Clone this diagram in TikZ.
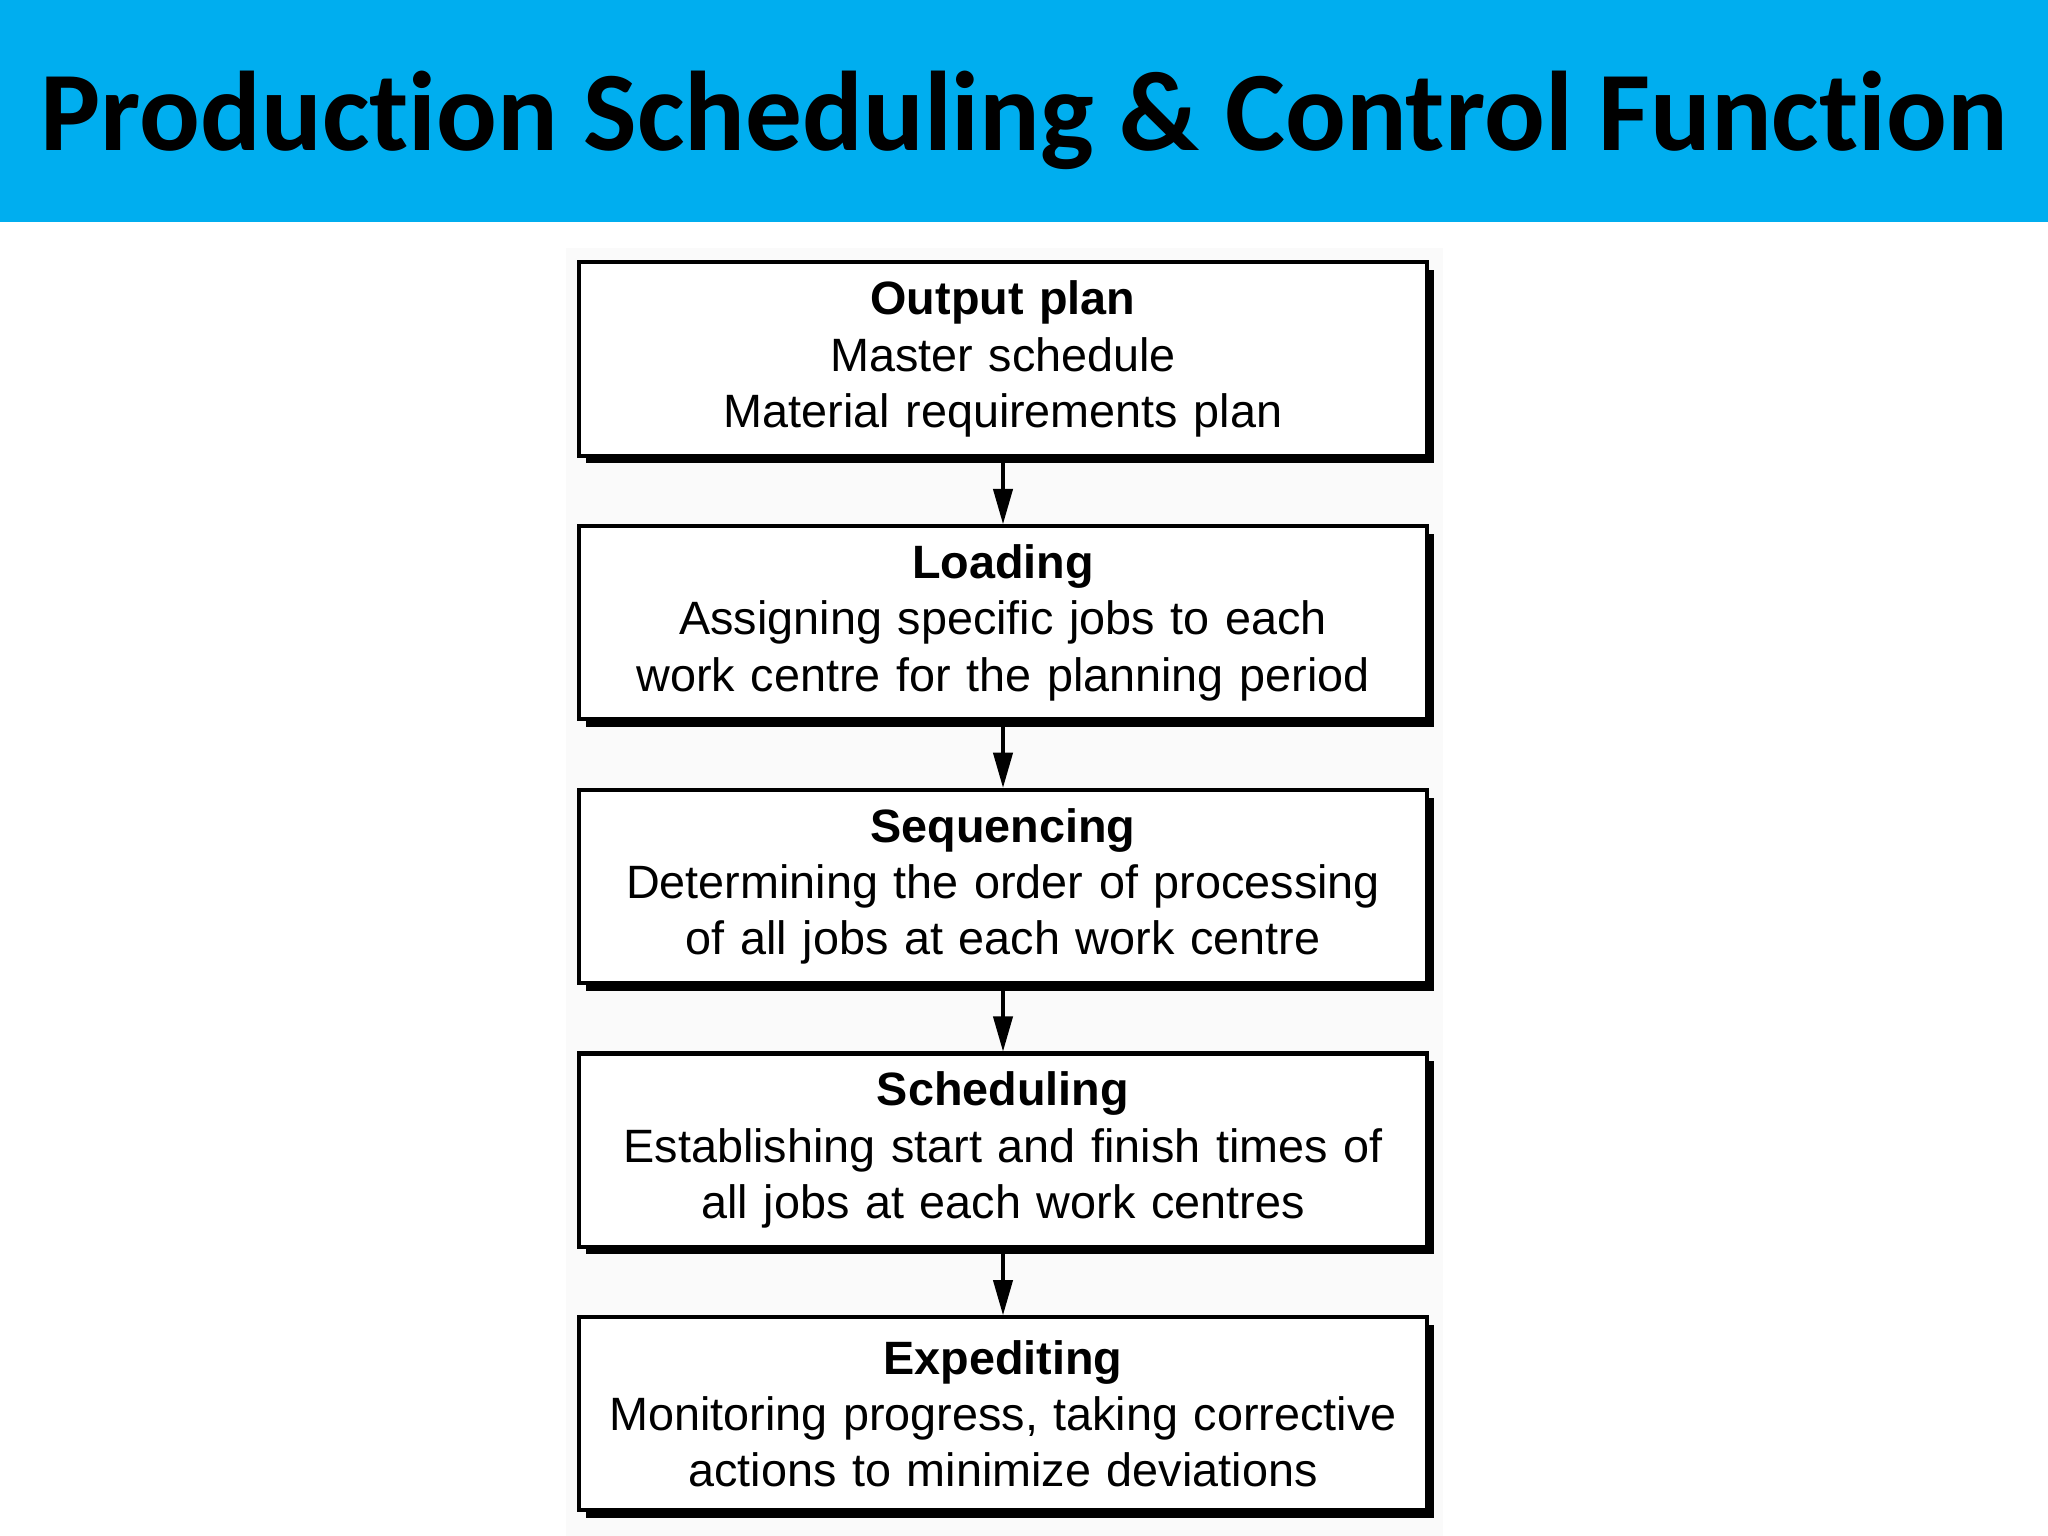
\documentclass[tikz,border=0pt]{standalone}
\usepackage{fontspec}
\usepackage{tikz}
\usetikzlibrary{positioning, shadows, arrows.meta}
\setmainfont{Liberation Sans}
\newfontfamily\titlefont[Ligatures=NoCommon]{Carlito}
\definecolor{bannerblue}{HTML}{00AEEF}
\tikzset{
  stagebox/.style={draw, line width=1.15pt, fill=white, minimum width=8.47cm, minimum height=1.93cm,
    align=center, text width=8.1cm, font=\fontsize{13.3}{16}\selectfont,
    drop shadow={shadow xshift=2pt, shadow yshift=-2.2pt, fill=black, opacity=1}},
  flow/.style={line width=0.9pt, -{Triangle[length=10pt,width=5.5pt]}}
}
\begin{document}
\begin{tikzpicture}[x=0.01cm, y=0.01cm]

% Page and banner
\useasboundingbox (0,0) rectangle (2048,1536);
\fill[bannerblue] (0,1314) rectangle (2048,1536);
\fill[black!2] (566,0) rectangle (1443,1288);
\node[anchor=base, inner sep=0pt] (title) at (1024,1385) {\titlefont\fontsize{32.2}{36}\selectfont\bfseries Production Scheduling \& Control Function};

% Stages
\node[stagebox] (output) at (1003,1177) {\textbf{Output plan}\\Master schedule\\Material requirements plan};
\node[stagebox, below=0.665cm of output] (loading) {\textbf{Loading}\\Assigning specific jobs to each\\work centre for the planning period};
\node[stagebox, below=0.665cm of loading] (sequencing) {\textbf{Sequencing}\\Determining the order of processing\\of all jobs at each work centre};
\node[stagebox, below=0.665cm of sequencing] (scheduling) {\textbf{Scheduling}\\Establishing start and finish times of\\all jobs at each work centres};
\node[stagebox, below=0.665cm of scheduling] (expediting) {\textbf{Expediting}\\Monitoring progress, taking corrective\\actions to minimize deviations};

% Arrows
\draw[flow] (output) -- (loading);
\draw[flow] (loading) -- (sequencing);
\draw[flow] (sequencing) -- (scheduling);
\draw[flow] (scheduling) -- (expediting);

\end{tikzpicture}
\end{document}
